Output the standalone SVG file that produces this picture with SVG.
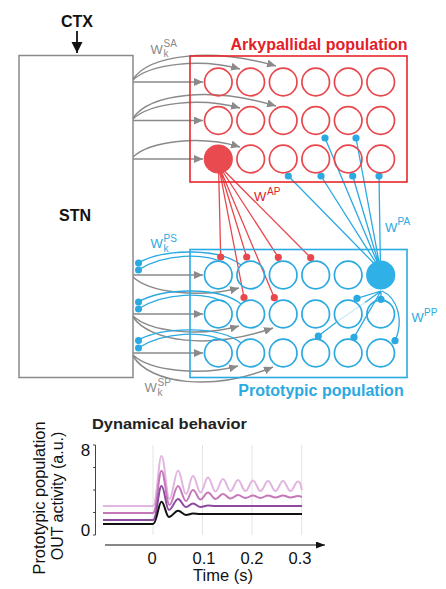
<svg xmlns="http://www.w3.org/2000/svg" width="446" height="589" viewBox="0 0 446 589">
<defs>
<marker id="ga" markerUnits="userSpaceOnUse" markerWidth="10" markerHeight="8" refX="9" refY="4" orient="auto"><path d="M0,0 L9,4 L0,8 z" fill="#8a8a8a"/></marker>
<marker id="ka" markerUnits="userSpaceOnUse" markerWidth="12" markerHeight="12" refX="11" refY="5.5" orient="auto"><path d="M0,0 L11,5.5 L0,11 z" fill="#111"/></marker>
<marker id="xa" markerUnits="userSpaceOnUse" markerWidth="10" markerHeight="8" refX="9" refY="3.5" orient="auto"><path d="M0,0 L9,3.5 L0,7 z" fill="#111"/></marker>
</defs>
<style>
text{font-family:"Liberation Sans",Arial,sans-serif}
.b{font-weight:bold}
.ac{fill:none;stroke:#e8474c;stroke-width:1.7}
.pc{fill:none;stroke:#2ba9e1;stroke-width:1.7}
.ga{fill:none;stroke:#8a8a8a;stroke-width:1.5;marker-end:url(#ga)}
.rl{stroke:#e8474c;stroke-width:1.3;fill:none}
.bl{stroke:#2ba9e1;stroke-width:1.3;fill:none}
.rd{fill:#e8474c}
.bd{fill:#2ba9e1}
.w{font-size:13px}
.s{font-size:10px}
</style>

<g id="ctx">
<text x="77" y="26.5" text-anchor="middle" class="b" font-size="16" fill="#111">CTX</text>
<line x1="77" y1="31" x2="77" y2="53" stroke="#111" stroke-width="1.8" marker-end="url(#ka)"/>
</g>

<g id="stn">
<rect x="19" y="55.5" width="114" height="322" fill="none" stroke="#8a8a8a" stroke-width="1.5"/>
<text x="75" y="221" text-anchor="middle" class="b" font-size="16" fill="#111">STN</text>
</g>

<g id="connectors">
<path class="ga" d="M133,82 H203"/>
<path class="ga" d="M133,80 C150,64 200,58 240,69"/>
<path class="ga" d="M133,79 C150,55 210,47 276,66"/>
<path class="ga" d="M133,120.5 H203"/>
<path class="ga" d="M133,119 C150,103 200,97 240,108"/>
<path class="ga" d="M133,118 C150,94 210,86 276,106"/>
<path class="ga" d="M133,159 H203"/>
<path class="ga" d="M133,157 C150,141 200,135 240,147"/>
<path class="ga" d="M133,275 H203"/>
<path class="ga" d="M133,277 C150,293 200,298 239,288"/>
<path class="ga" d="M133,314 H203"/>
<path class="ga" d="M133,316 C150,332 200,337 239,326"/>
<path class="ga" d="M133,317 C150,342 210,350 273,328"/>
<path class="ga" d="M133,353 H203"/>
<path class="ga" d="M133,355 C150,371 200,376 238,366"/>
<path class="ga" d="M133,356 C150,384 212,392 273,367"/>
<path class="bl" d="M241,265 C220,248 165,248 138,263"/>
<path class="bl" d="M224,263 C205,253 165,253 138,270"/>
<path class="bl" d="M241,304 C220,287 165,287 138,302"/>
<path class="bl" d="M224,302 C205,292 165,292 138,309"/>
<path class="bl" d="M241,343 C220,326 165,326 138,340"/>
<path class="bl" d="M224,341 C205,331 165,331 138,348"/>
<circle class="bd" cx="138.5" cy="263" r="3.5"/>
<circle class="bd" cx="138.5" cy="270" r="3.5"/>
<circle class="bd" cx="138.5" cy="302" r="3.5"/>
<circle class="bd" cx="138.5" cy="309" r="3.5"/>
<circle class="bd" cx="138.5" cy="340.5" r="3.5"/>
<circle class="bd" cx="138.5" cy="348" r="3.5"/>
<path class="rl" d="M218.5,165 L220.7,257 M218.5,165 L246.7,257 M218.5,165 L278.3,257.3 M218.5,165 L310.7,257.7 M218.5,165 L244,297.5 M218.5,165 L274.3,297.7"/>
<circle class="rd" cx="220.7" cy="257" r="3.6"/>
<circle class="rd" cx="246.7" cy="257" r="3.6"/>
<circle class="rd" cx="278.3" cy="257.3" r="3.6"/>
<circle class="rd" cx="310.7" cy="257.7" r="3.6"/>
<circle class="rd" cx="244" cy="297.5" r="3.6"/>
<circle class="rd" cx="274.3" cy="297.7" r="3.6"/>
<path class="bl" d="M380.5,270 L325,138 M380.5,270 L356,138 M380.5,270 L288.3,176 M380.5,270 L321,176 M380.5,270 L352.7,176 M380.5,270 L379,176"/>
<circle class="bd" cx="325" cy="138" r="3.6"/>
<circle class="bd" cx="356" cy="138" r="3.6"/>
<circle class="bd" cx="288.3" cy="176" r="3.6"/>
<circle class="bd" cx="321" cy="176" r="3.6"/>
<circle class="bd" cx="352.7" cy="176" r="3.6"/>
<circle class="bd" cx="379" cy="176" r="3.6"/>
<path class="bl" d="M381,291 L357,298.3 M381,291 L381,299.3 M381,291 L354,337.3 M381,291 L365,302.5 M336,322.5 L318.3,336 M382,291 C398,298 404,322 395,340.7"/>
<path d="M365,302.5 L336,322.5" stroke="#cde9f8" stroke-width="1.3"/>
<circle class="bd" cx="357" cy="298.3" r="3.6"/>
<circle class="bd" cx="381" cy="299.3" r="3.6"/>
<circle class="bd" cx="318.3" cy="336" r="3.6"/>
<circle class="bd" cx="354" cy="337.3" r="3.6"/>
<circle class="bd" cx="395" cy="340.7" r="3.6"/>
</g>

<g id="weights">
<text x="150.5" y="54" class="w" fill="#8a8a8a">W</text>
<text x="163.5" y="46.5" class="s" fill="#8a8a8a">SA</text>
<text x="163.5" y="57" class="s" fill="#8a8a8a">k</text>
<text x="150.5" y="248" class="w" fill="#2ba9e1">W</text>
<text x="163.5" y="241.5" class="s" fill="#2ba9e1">PS</text>
<text x="163.5" y="252" class="s" fill="#2ba9e1">k</text>
<text x="144.5" y="392" class="w" fill="#8a8a8a">W</text>
<text x="157.5" y="385.5" class="s" fill="#8a8a8a">SP</text>
<text x="157.5" y="396" class="s" fill="#8a8a8a">k</text>
<text x="254" y="201" class="w" fill="#e3202a">W</text>
<text x="267" y="195" class="s" fill="#e3202a">AP</text>
<text x="385" y="232" class="w" fill="#2ba9e1">W</text>
<text x="397.5" y="225" class="s" fill="#2ba9e1">PA</text>
<text x="411.5" y="322" class="w" fill="#2ba9e1">W</text>
<text x="424" y="315.5" class="s" fill="#2ba9e1">PP</text>
</g>

<g id="arkypallidal">
<rect x="190" y="56" width="217" height="126" fill="none" stroke="#e8262b" stroke-width="1.6"/>
<text x="319" y="50" text-anchor="middle" class="b" font-size="16" fill="#e3202a">Arkypallidal population</text>
<circle class="ac" cx="218.3" cy="82" r="13.8"/><circle class="ac" cx="250.7" cy="82" r="13.8"/><circle class="ac" cx="283.2" cy="82" r="13.8"/><circle class="ac" cx="315.7" cy="82" r="13.8"/><circle class="ac" cx="348.2" cy="82" r="13.8"/><circle class="ac" cx="380.7" cy="82" r="13.8"/>
<circle class="ac" cx="218.3" cy="120.5" r="13.8"/><circle class="ac" cx="250.7" cy="120.5" r="13.8"/><circle class="ac" cx="283.2" cy="120.5" r="13.8"/><circle class="ac" cx="315.7" cy="120.5" r="13.8"/><circle class="ac" cx="348.2" cy="120.5" r="13.8"/><circle class="ac" cx="380.7" cy="120.5" r="13.8"/>
<circle cx="218.3" cy="159" r="14.6" fill="#e84a4f"/><circle class="ac" cx="250.7" cy="159" r="13.8"/><circle class="ac" cx="283.2" cy="159" r="13.8"/><circle class="ac" cx="315.7" cy="159" r="13.8"/><circle class="ac" cx="348.2" cy="159" r="13.8"/><circle class="ac" cx="380.7" cy="159" r="13.8"/>
</g>

<g id="prototypic">
<rect x="190" y="249.5" width="217" height="128" fill="none" stroke="#2ba9e1" stroke-width="1.6"/>
<text x="321" y="396" text-anchor="middle" class="b" font-size="16" fill="#2ba9e1">Prototypic population</text>
<circle class="pc" cx="218.3" cy="275" r="13.8"/><circle class="pc" cx="250.7" cy="275" r="13.8"/><circle class="pc" cx="283.2" cy="275" r="13.8"/><circle class="pc" cx="315.7" cy="275" r="13.8"/><circle class="pc" cx="348.2" cy="275" r="13.8"/><circle cx="380.7" cy="275" r="14.6" fill="#2fb0e6"/>
<circle class="pc" cx="218.3" cy="314" r="13.8"/><circle class="pc" cx="250.7" cy="314" r="13.8"/><circle class="pc" cx="283.2" cy="314" r="13.8"/><circle class="pc" cx="315.7" cy="314" r="13.8"/><circle class="pc" cx="348.2" cy="314" r="13.8"/><circle class="pc" cx="380.7" cy="314" r="13.8"/>
<circle class="pc" cx="218.3" cy="353" r="13.8"/><circle class="pc" cx="250.7" cy="353" r="13.8"/><circle class="pc" cx="283.2" cy="353" r="13.8"/><circle class="pc" cx="315.7" cy="353" r="13.8"/><circle class="pc" cx="348.2" cy="353" r="13.8"/><circle class="pc" cx="380.7" cy="353" r="13.8"/>
</g>

<g id="plot">
<text x="92" y="428.5" class="b" font-size="14.5" fill="#222" textLength="155" lengthAdjust="spacingAndGlyphs">Dynamical behavior</text>
<g stroke="#e4e4e4" stroke-width="1">
<line x1="153" y1="445" x2="153" y2="535"/><line x1="202.5" y1="445" x2="202.5" y2="535"/><line x1="252" y1="445" x2="252" y2="535"/><line x1="301.7" y1="445" x2="301.7" y2="535"/>
</g>
<g stroke="#444" stroke-width="1">
<line x1="95.5" y1="445" x2="95.5" y2="535"/>
<line x1="93" y1="445" x2="95.5" y2="445"/><line x1="93" y1="467.5" x2="95.5" y2="467.5"/><line x1="93" y1="490" x2="95.5" y2="490"/><line x1="93" y1="512.5" x2="95.5" y2="512.5"/><line x1="93" y1="535" x2="95.5" y2="535"/>
</g>
<line x1="105" y1="545" x2="325" y2="545" stroke="#111" stroke-width="1.2" marker-end="url(#xa)"/>
<g font-size="17" fill="#111" text-anchor="middle">
<text x="85.5" y="456">8</text>
<text x="85.5" y="536">0</text>
<text x="152" y="564" font-size="16.5">0</text>
<text x="204" y="564" font-size="16.5">0.1</text>
<text x="252" y="564" font-size="16.5">0.2</text>
<text x="300" y="564" font-size="16.5">0.3</text>
<text x="223" y="581" font-size="16.5">Time (s)</text>
<text transform="translate(45,498) rotate(-90)" font-size="16.4">Prototypic population</text>
<text transform="translate(63,496) rotate(-90)" font-size="16">OUT activity (a.u.)</text>
</g>
<g fill="none" stroke-width="2" stroke-linejoin="round">
<path stroke="#e0b5df" d="M103,506 H153 C157,506 158.5,456 161.5,456 S166.5,499 169.5,499 S175,470.5 178,470.5 S183,494 186,494 S190,476 193,476 S197.5,492.5 200.5,492.5 S205,477.5 208,477.5 S212.5,491.5 215.5,491.5 S220,479 223,479 S227.5,491 230.5,491 S235,480 238,480 S242.5,491 245.5,491 S250,480.5 253,480.5 S257.5,491 260.5,491 S265,481 268,481 S272.5,491 275.5,491 S280,481 283,481 S287.5,491 290.5,491 S295,481.5 298,481.5 S301,488 302,490"/>
<path stroke="#c677ba" d="M103,513 H153 C157,513 158.5,470.7 161.5,470.7 S166.5,505 169.5,505 S175,486 178,486 S183,501 186,501 S190,490 193,490 S197.5,499.5 200.5,499.5 S205,492.5 208,492.5 S212.5,499 215.5,499 S220,494 223,494 S227.5,498.5 230.5,498.5 S235,495 238,495 S242.5,498 245.5,498 S250,495.5 253,495.5 S257.5,498 260.5,498 S265,495.5 268,495.5 S272.5,497.5 275.5,497.5 S280,495.5 283,495.5 S287.5,497.5 290.5,497.5 S295,496 298,496 S301,497 302,497"/>
<path stroke="#8c4b9f" d="M103,520 H153 C157,520 158.5,486 161.5,486 S166,510 169,510 S175,499 178,499 S183,507 186,507 S190,503.5 193,503.5 S197.5,507 200.5,507 S205,505.5 208,505.5 S212,506 215,506 H302"/>
<path stroke="#111" d="M103,524 H153 C157,524 158.5,501.7 161.5,501.7 S166,517 169,517 S175,510.7 178,510.7 S183,515 186,515 S190,513.5 193,513.5 S197,514 200,514 H302"/>
</g>
</g>
</svg>
